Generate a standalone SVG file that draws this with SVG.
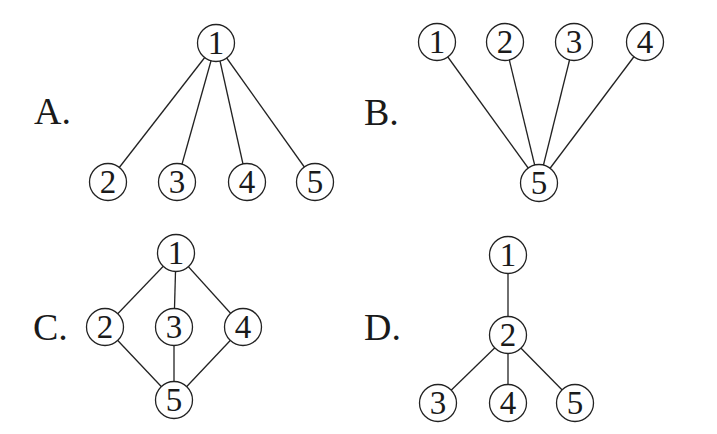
<svg xmlns="http://www.w3.org/2000/svg" width="717" height="434" viewBox="0 0 717 434">
<style>
.n circle{fill:#fff;stroke:#222;stroke-width:1.3}
.n text{font-family:"Liberation Serif",serif;font-size:33px;fill:#1a1a1a;text-anchor:middle}
.lbl{font-family:"Liberation Serif",serif;font-size:38px;fill:#1a1a1a}
#edges line{stroke:#222;stroke-width:1.3}
</style>
<rect width="717" height="434" fill="#fff"/>
<text class="lbl" x="34" y="124">A.</text>
<text class="lbl" x="364" y="125">B.</text>
<text class="lbl" x="33" y="340">C.</text>
<text class="lbl" x="364" y="340">D.</text>
<g id="edges">
<line x1="216" y1="43" x2="108" y2="182"/>
<line x1="216" y1="43" x2="177" y2="182"/>
<line x1="216" y1="43" x2="247" y2="182"/>
<line x1="216" y1="43" x2="315" y2="182"/>
<line x1="437" y1="42" x2="539" y2="183"/>
<line x1="505" y1="42" x2="539" y2="183"/>
<line x1="574" y1="42" x2="539" y2="183"/>
<line x1="645" y1="42" x2="539" y2="183"/>
<line x1="176" y1="253" x2="105" y2="327"/>
<line x1="176" y1="253" x2="174" y2="327"/>
<line x1="176" y1="253" x2="243" y2="327"/>
<line x1="105" y1="327" x2="174" y2="400"/>
<line x1="174" y1="327" x2="174" y2="400"/>
<line x1="243" y1="327" x2="174" y2="400"/>
<line x1="508" y1="255" x2="508" y2="335"/>
<line x1="508" y1="335" x2="438" y2="403"/>
<line x1="508" y1="335" x2="508" y2="403"/>
<line x1="508" y1="335" x2="575" y2="403"/>
</g>
<g id="A1" class="n"><circle cx="216" cy="43" r="18.5"/><text x="216" y="54">1</text></g>
<g id="A2" class="n"><circle cx="108" cy="182" r="18.5"/><text x="108" y="193">2</text></g>
<g id="A3" class="n"><circle cx="177" cy="182" r="18.5"/><text x="177" y="193">3</text></g>
<g id="A4" class="n"><circle cx="247" cy="182" r="18.5"/><text x="247" y="193">4</text></g>
<g id="A5" class="n"><circle cx="315" cy="182" r="18.5"/><text x="315" y="193">5</text></g>
<g id="B1" class="n"><circle cx="437" cy="42" r="18.5"/><text x="437" y="53">1</text></g>
<g id="B2" class="n"><circle cx="505" cy="42" r="18.5"/><text x="505" y="53">2</text></g>
<g id="B3" class="n"><circle cx="574" cy="42" r="18.5"/><text x="574" y="53">3</text></g>
<g id="B4" class="n"><circle cx="645" cy="42" r="18.5"/><text x="645" y="53">4</text></g>
<g id="B5" class="n"><circle cx="539" cy="183" r="18.5"/><text x="539" y="194">5</text></g>
<g id="C1" class="n"><circle cx="176" cy="253" r="18.5"/><text x="176" y="264">1</text></g>
<g id="C2" class="n"><circle cx="105" cy="327" r="18.5"/><text x="105" y="338">2</text></g>
<g id="C3" class="n"><circle cx="174" cy="327" r="18.5"/><text x="174" y="338">3</text></g>
<g id="C4" class="n"><circle cx="243" cy="327" r="18.5"/><text x="243" y="338">4</text></g>
<g id="C5" class="n"><circle cx="174" cy="400" r="18.5"/><text x="174" y="411">5</text></g>
<g id="D1" class="n"><circle cx="508" cy="255" r="18.5"/><text x="508" y="266">1</text></g>
<g id="D2" class="n"><circle cx="508" cy="335" r="18.5"/><text x="508" y="346">2</text></g>
<g id="D3" class="n"><circle cx="438" cy="403" r="18.5"/><text x="438" y="414">3</text></g>
<g id="D4" class="n"><circle cx="508" cy="403" r="18.5"/><text x="508" y="414">4</text></g>
<g id="D5" class="n"><circle cx="575" cy="403" r="18.5"/><text x="575" y="414">5</text></g>
</svg>
